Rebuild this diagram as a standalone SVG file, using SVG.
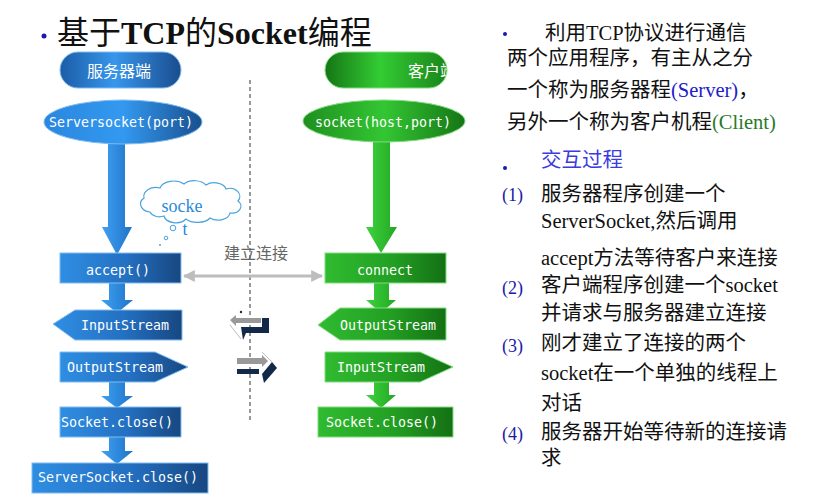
<svg xmlns="http://www.w3.org/2000/svg" width="835" height="500" viewBox="0 0 835 500">
<defs>
<linearGradient id="bBox" x1="0" y1="0" x2="1" y2="0">
<stop offset="0" stop-color="#2f8ee2"/><stop offset="0.55" stop-color="#2470c2"/><stop offset="1" stop-color="#174780"/>
</linearGradient>
<linearGradient id="bPill" x1="0" y1="0" x2="1" y2="0">
<stop offset="0" stop-color="#1c5ca6"/><stop offset="0.45" stop-color="#3796ec"/><stop offset="1" stop-color="#1a4c8e"/>
</linearGradient>
<linearGradient id="bEll" x1="0" y1="0" x2="1" y2="0">
<stop offset="0" stop-color="#2a86de"/><stop offset="0.5" stop-color="#3399f0"/><stop offset="1" stop-color="#1a4f8f"/>
</linearGradient>
<linearGradient id="gBox" x1="0" y1="0" x2="1" y2="0">
<stop offset="0" stop-color="#30bb30"/><stop offset="0.55" stop-color="#23a023"/><stop offset="1" stop-color="#147014"/>
</linearGradient>
<linearGradient id="gPill" x1="0" y1="0" x2="1" y2="0">
<stop offset="0" stop-color="#157515"/><stop offset="0.45" stop-color="#33cc33"/><stop offset="1" stop-color="#1a861a"/>
</linearGradient>
<linearGradient id="gEll" x1="0" y1="0" x2="1" y2="0">
<stop offset="0" stop-color="#1f8f1f"/><stop offset="0.5" stop-color="#33c633"/><stop offset="1" stop-color="#157515"/>
</linearGradient>
<linearGradient id="bArr" x1="0" y1="0" x2="1" y2="0">
<stop offset="0" stop-color="#3fa0f2"/><stop offset="1" stop-color="#1f74c8"/>
</linearGradient>
<linearGradient id="gArr" x1="0" y1="0" x2="1" y2="0">
<stop offset="0" stop-color="#3fd23f"/><stop offset="1" stop-color="#22a822"/>
</linearGradient>
<clipPath id="gPillClip"><rect x="325" y="52" width="122" height="36" rx="18"/></clipPath>
<marker id="gh" viewBox="0 0 10 10" refX="9" refY="5" markerWidth="4" markerHeight="4" orient="auto-start-reverse">
<path d="M0,0 L10,5 L0,10 z" fill="#bdbdbd"/>
</marker>
<style>
.mono{font-family:"DejaVu Sans Mono","Liberation Mono",monospace;font-size:13.3px;fill:#fff;text-anchor:middle;dominant-baseline:central}
.pill{font-family:"Noto Sans CJK SC",sans-serif;font-size:16px;fill:#fff;dominant-baseline:central}
.txt{font-family:"Liberation Serif","Noto Sans CJK SC",serif;font-size:20.5px;fill:#111}
.num{font-family:"Liberation Serif",serif;font-size:18px;fill:#1a1aa8}
.edgeB{stroke:#7fbcf2;stroke-width:1}
.edgeG{stroke:#7fdc7f;stroke-width:1}
</style>
</defs>
<rect width="835" height="500" fill="#fff"/>

<g id="title">
<circle cx="44" cy="36" r="2.5" fill="#1a1ab0"/>
<text x="57" y="44" font-family="Liberation Serif,'Noto Sans CJK SC',serif" font-size="32" fill="#111">基于<tspan font-weight="bold">TCP</tspan>的<tspan font-weight="bold">Socket</tspan>编程</text>
</g>

<g id="divider">
<line x1="250" y1="80" x2="250" y2="420" stroke="#555" stroke-width="1.2" stroke-dasharray="4,3"/>
</g>

<g id="connectors">
<path d="M108,140 H125 V227 H132 L117,255 L102,227 H108 Z" fill="url(#bArr)"/>
<path d="M109,283 H125 V300 H133 L117,313 L101,300 H109 Z" fill="url(#bArr)"/>
<path d="M109,382 H125 V396 H133 L117,408 L101,396 H109 Z" fill="url(#bArr)"/>
<path d="M109,437 H125 V451 H133 L117,464 L101,451 H109 Z" fill="url(#bArr)"/>
<path d="M373,141 H390 V227 H397 L381,253 L366,227 H373 Z" fill="url(#gArr)"/>
<path d="M374,283 H389 V300 H396 L381,313 L366,300 H374 Z" fill="url(#gArr)"/>
<path d="M374,382 H389 V395 H396 L381,408 L366,395 H374 Z" fill="url(#gArr)"/>
<line x1="184" y1="276" x2="322" y2="276" stroke="#bdbdbd" stroke-width="3" marker-start="url(#gh)" marker-end="url(#gh)"/>
<text x="256" y="259" text-anchor="middle" font-family="Noto Sans CJK SC,sans-serif" font-size="16" fill="#666">建立连接</text>
</g>

<g id="server-label">
<rect x="60" y="52" width="121" height="36" rx="18" fill="url(#bPill)" class="edgeB"/>
<text x="119" y="70" text-anchor="middle" class="pill">服务器端</text>
</g>
<g id="client-label">
<g clip-path="url(#gPillClip)">
<rect x="325" y="52" width="122" height="36" rx="18" fill="url(#gPill)"/>
<text x="408" y="70" class="pill">客户端</text>
</g>
<rect x="325" y="52" width="122" height="36" rx="18" fill="none" class="edgeG"/>
</g>

<g id="serversocket">
<ellipse cx="123" cy="122" rx="79" ry="22" fill="url(#bEll)" class="edgeB"/>
<text x="121" y="122" class="mono">Serversocket(port)</text>
</g>
<g id="socket">
<ellipse cx="384" cy="121" rx="81" ry="21" fill="url(#gEll)" class="edgeG"/>
<text x="383" y="122" class="mono">socket(host,port)</text>
</g>

<g id="cloud">
<path d="M150,212 a10,8 0 0 1 -6,-14 a12,9 0 0 1 16,-10 a14,9 0 0 1 24,-4 a13,8 0 0 1 22,1 a12,8 0 0 1 20,4 a10,8 0 0 1 12,12 a9,7 0 0 1 -8,12 a12,8 0 0 1 -20,5 a14,8 0 0 1 -24,1 a12,8 0 0 1 -22,-3 a10,7 0 0 1 -14,-4 z" fill="#fff" stroke="#4aa3de" stroke-width="1.2"/>
<circle cx="173" cy="228" r="2.8" fill="#fff" stroke="#4aa3de" stroke-width="1"/>
<circle cx="166" cy="238" r="1.8" fill="#fff" stroke="#4aa3de" stroke-width="1"/>
<circle cx="160" cy="245" r="1" fill="#4aa3de"/>
<text x="182" y="212" text-anchor="middle" font-family="Liberation Serif,serif" font-size="18" fill="#2a8ad8">socke</text>
<text x="185" y="235" text-anchor="middle" font-family="Liberation Serif,serif" font-size="18" fill="#2a8ad8">t</text>
</g>

<g id="accept">
<rect x="60" y="253" width="121" height="30" fill="url(#bBox)" class="edgeB"/>
<text x="118" y="270" class="mono">accept()</text>
</g>
<g id="connect">
<rect x="325" y="253" width="121" height="30" fill="url(#gBox)" class="edgeG"/>
<text x="385" y="270" class="mono">connect</text>
</g>

<g id="s-inputstream">
<polygon points="53,324 75,310 182,310 182,340 75,340" fill="url(#bBox)" class="edgeB"/>
<text x="125" y="325" class="mono">InputStream</text>
</g>
<g id="s-outputstream">
<polygon points="60,352 155,352 188,367 155,382 60,382" fill="url(#bBox)" class="edgeB"/>
<text x="115" y="367" class="mono">OutputStream</text>
</g>
<g id="s-socketclose">
<rect x="60" y="407" width="121" height="30" fill="url(#bBox)" class="edgeB"/>
<text x="117" y="422" class="mono">Socket.close()</text>
</g>
<g id="serversocketclose">
<rect x="32" y="463" width="176" height="30" fill="url(#bBox)" class="edgeB"/>
<text x="118" y="477" class="mono">ServerSocket.close()</text>
</g>

<g id="c-outputstream">
<polygon points="318,325 340,308 446,308 446,340 340,340" fill="url(#gBox)" class="edgeG"/>
<text x="388" y="325" class="mono">OutputStream</text>
</g>
<g id="c-inputstream">
<polygon points="325,352 420,352 453,367 420,382 325,382" fill="url(#gBox)" class="edgeG"/>
<text x="381" y="367" class="mono">InputStream</text>
</g>
<g id="c-socketclose">
<rect x="318" y="407" width="135" height="30" fill="url(#gBox)" class="edgeG"/>
<text x="382" y="422" class="mono">Socket.close()</text>
</g>

<g id="swap-in">
<polygon points="230,320 236,315 236,318 261,318 261,323 236,323 236,326" fill="#999"/>
<circle cx="241" cy="312" r="1.2" fill="#1b2a44"/>
<polygon points="262,318 269,318 269,333 246,333 243,340 241,327 262,327" fill="#13294a"/>
<line x1="230" y1="325" x2="241" y2="339" stroke="#bbb" stroke-width="1"/>
</g>
<g id="swap-out">
<polygon points="237,358 262,358 262,355 268,361 262,367 262,364 237,364" fill="#999"/>
<rect x="237" y="369" width="22" height="5" fill="#13294a"/>
<polygon points="262,374 272,362 277,368 264,383" fill="#13294a"/>
<line x1="262" y1="352" x2="272" y2="362" stroke="#bbb" stroke-width="1"/>
</g>

<g id="description">
<circle cx="505" cy="34" r="2" fill="#1a1ab0"/>
<text class="txt" x="545" y="40">利用TCP协议进行通信</text>
<text class="txt" x="507" y="65">两个应用程序，有主从之分</text>
<text class="txt" x="507" y="97">一个称为服务器程<tspan fill="#2020c8">(Server)</tspan>，</text>
<text class="txt" x="507" y="129">另外一个称为客户机程<tspan fill="#2a7a2a">(Client)</tspan></text>
<circle cx="505" cy="168" r="2" fill="#1a1ab0"/>
<text class="txt" x="541" y="167" style="fill:#3b3be0">交互过程</text>
<text class="num" x="502" y="201">(1)</text>
<text class="txt" x="541" y="201">服务器程序创建一个</text>
<text class="txt" x="541" y="228">ServerSocket,然后调用</text>
<text class="txt" x="541" y="265">accept方法等待客户来连接</text>
<text class="num" x="502" y="294">(2)</text>
<text class="txt" x="541" y="292">客户端程序创建一个socket</text>
<text class="txt" x="541" y="320">并请求与服务器建立连接</text>
<text class="num" x="502" y="352">(3)</text>
<text class="txt" x="541" y="350">刚才建立了连接的两个</text>
<text class="txt" x="541" y="380">socket在一个单独的线程上</text>
<text class="txt" x="541" y="410">对话</text>
<text class="num" x="502" y="440">(4)</text>
<text class="txt" x="541" y="439">服务器开始等待新的连接请</text>
<text class="txt" x="541" y="465">求</text>
</g>
</svg>
